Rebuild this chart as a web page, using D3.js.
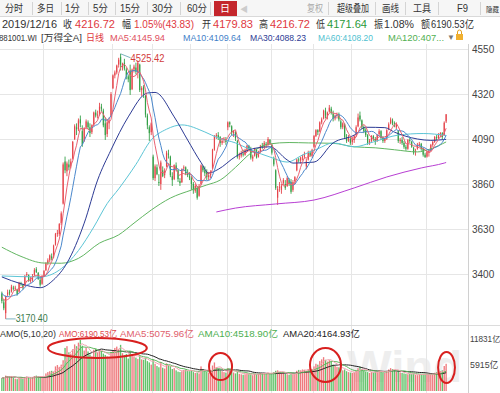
<!DOCTYPE html>
<html><head><meta charset="utf-8">
<script src="https://cdn.jsdelivr.net/npm/d3@7"></script>
<style>html,body{margin:0;padding:0;background:#fff;overflow:hidden}svg{display:block}</style>
</head><body><svg id="c" width="500" height="393"></svg>
<script>
// ---- data: daily candles [open, high, low, close], Jan 2 2019 .. Dec 16 2019
const ohlc = [
[3300,3310,3250,3262],[3255,3270,3215,3225],[3200,3290,3170.4,3285],[3295,3320,3285,3305],[3310,3320,3290,3302],
[3310,3345,3305,3335],[3330,3340,3315,3325],[3325,3340,3315,3330],[3320,3325,3290,3298],[3310,3360,3305,3355],
[3352,3360,3340,3348],[3345,3350,3320,3330],[3340,3395,3338,3390],[3395,3410,3385,3400],[3395,3398,3360,3365],
[3365,3385,3355,3375],[3370,3400,3360,3390],[3395,3430,3390,3420],[3425,3435,3405,3410],[3405,3410,3370,3375],
[3370,3385,3335,3345],[3350,3395,3345,3385],
[3390,3420,3385,3415],[3420,3460,3415,3455],[3455,3480,3445,3470],[3470,3500,3460,3495],[3490,3505,3470,3480],
[3485,3550,3480,3545],[3550,3610,3545,3605],[3605,3625,3590,3610],[3605,3660,3595,3655],[3660,3720,3650,3710],
[3760,3970,3755,3960],[3975,4000,3915,3930],[3925,3975,3900,3965],[3960,3985,3930,3945],[3950,3990,3940,3975],
[3990,4080,3985,4075],[4090,4165,4085,4155],[4150,4170,4110,4140],[4140,4195,4130,4185],[4190,4210,4150,4170],
[4130,4160,4050,4060],[4080,4150,4075,4145],[4150,4190,4140,4180],[4175,4185,4140,4150],[4150,4170,4100,4120],
[4125,4165,4115,4160],[4160,4230,4155,4225],[4225,4240,4200,4210],[4210,4235,4195,4215],[4220,4275,4210,4255],
[4255,4270,4230,4245],[4235,4245,4150,4160],[4170,4200,4085,4110],[4115,4190,4100,4175],[4170,4200,4140,4185],
[4210,4330,4205,4320],
[4350,4420,4345,4415],[4415,4440,4400,4430],[4430,4470,4420,4465],[4470,4505,4455,4495],[4510,4525.42,4440,4470],
[4460,4480,4440,4475],[4480,4500,4440,4450],[4445,4455,4395,4410],[4410,4420,4380,4395],[4440,4470,4315,4340],
[4345,4450,4340,4445],[4445,4470,4430,4460],[4455,4480,4420,4435],[4430,4490,4400,4480],[4470,4475,4330,4340],
[4340,4360,4310,4350],[4355,4365,4300,4320],[4310,4315,4200,4215],[4210,4220,4140,4160],[4150,4160,4080,4120],
[4125,4175,4110,4170],
[4000,4010,3880,3890],[3890,3960,3875,3950],[3945,3960,3905,3910],[3870,3910,3850,3865],[3860,3980,3830,3970],
[3930,3950,3895,3900],[3905,3940,3890,3925],[3950,4030,3945,4020],[4015,4035,3990,4010],[4000,4005,3895,3905],
[3900,3920,3850,3880],[3885,3960,3880,3955],[3955,3970,3925,3935],[3930,3935,3870,3885],[3875,3890,3850,3865],
[3870,3940,3865,3935],[3940,3955,3925,3945],[3945,3950,3905,3915],[3915,3935,3895,3905],[3900,3920,3880,3890],
[3890,3900,3830,3860],[3860,3870,3810,3830],[3825,3860,3815,3850],[3840,3850,3780,3790],[3800,3860,3795,3850],
[3860,3960,3855,3955],[3950,3955,3920,3930],[3930,3950,3900,3915],[3920,3935,3880,3895],[3895,3920,3880,3905],
[3905,3930,3890,3920],[3940,4040,3935,4035],[4035,4110,4030,4105],[4105,4120,4090,4110],[4110,4125,4085,4100],
[4100,4105,4050,4070],[4070,4090,4060,4080],[4085,4100,4070,4090],[4090,4100,4060,4075],
[4150,4180,4135,4175],[4175,4180,4150,4165],[4155,4160,4110,4120],[4120,4135,4100,4130],[4125,4130,4080,4095],
[4080,4085,3990,4000],[4000,4020,3985,4005],[4005,4030,3995,4015],[4015,4035,4000,4010],[4010,4040,4005,4035],
[4035,4060,4025,4055],[4055,4060,4030,4040],[4040,4050,3985,3995],[3990,4010,3975,4000],[4005,4045,4000,4040],
[4035,4040,3990,3995],[4000,4030,3995,4025],[4025,4060,4020,4055],[4055,4070,4040,4050],[4050,4080,4045,4070],
[4065,4075,4045,4060],[4060,4100,4055,4090],[4085,4090,4060,4065],
[4060,4065,4010,4020],[3990,4000,3950,3960],[3930,3935,3830,3840],[3790,3850,3753,3835],[3840,3870,3820,3845],
[3830,3860,3810,3850],[3865,3890,3855,3880],[3860,3880,3830,3840],[3850,3900,3845,3890],[3880,3890,3850,3860],
[3870,3885,3810,3820],[3830,3880,3820,3870],[3875,3900,3860,3895],[3930,3990,3925,3985],[3985,3995,3970,3980],
[3980,4000,3965,3995],[3995,4010,3980,4000],[4000,4025,3990,4015],[3950,3990,3935,3975],[3985,4030,3980,4020],
[4020,4030,4000,4005],[4005,4040,3995,4035],
[4050,4110,4045,4105],[4105,4140,4100,4135],[4135,4140,4110,4125],[4130,4180,4125,4175],[4175,4200,4165,4190],
[4195,4240,4190,4235],[4235,4250,4195,4210],[4205,4230,4190,4225],[4230,4264,4225,4250],[4245,4255,4215,4225],
[4220,4235,4180,4195],[4195,4215,4185,4210],[4210,4225,4195,4215],[4215,4225,4180,4190],[4180,4190,4140,4150],
[4150,4175,4140,4170],[4165,4170,4090,4100],[4100,4115,4070,4080],[4080,4110,4075,4095],[4090,4100,4060,4070],
[4075,4100,4060,4090],[4085,4110,4070,4105],[4110,4160,4100,4150],[4155,4220,4150,4200],[4210,4230,4180,4190],
[4185,4190,4140,4150],[4150,4160,4120,4130],[4135,4145,4100,4110],[4110,4115,4060,4070],[4070,4090,4060,4080],
[4080,4110,4075,4105],[4105,4110,4080,4090],[4090,4100,4060,4075],[4080,4115,4075,4110],[4115,4140,4105,4130],
[4130,4135,4085,4095],[4095,4105,4070,4080],[4080,4095,4070,4090],
[4090,4140,4085,4135],[4140,4175,4135,4165],[4170,4200,4165,4190],[4185,4195,4160,4170],[4170,4180,4150,4160],
[4150,4175,4140,4165],[4130,4135,4070,4080],[4080,4095,4065,4085],[4085,4100,4060,4070],[4070,4080,4040,4050],
[4050,4060,4030,4040],[4040,4090,4035,4085],[4085,4095,4070,4080],[4075,4080,4045,4050],[4045,4050,4010,4020],
[4025,4040,4005,4030],[4040,4070,4035,4060],[4060,4075,4050,4065],[4065,4070,4030,4040],[4040,4045,4000,4010],
[4010,4020,3993,3998],
[4000,4030,3995,4025],[4020,4035,4000,4030],[4030,4065,4025,4060],[4060,4080,4050,4075],[4075,4105,4070,4100],
[4100,4110,4085,4095],[4095,4120,4090,4115],[4115,4125,4100,4120],[4120,4125,4090,4100],[4110,4180,4105,4173],
[4179.83,4216.72,4171.64,4216.72]
];
// turnover (亿)
const volumes = [
2900,3100,3500,3400,3200,3300,2950,2800,2700,3100,3000,2800,3200,3300,3100,2900,3000,3400,3500,3300,3200,3100,
3300,4000,4300,4500,4600,4400,5600,5900,5500,6000,7000,9800,10200,8800,8500,
9500,10600,10200,11000,11600,10300,9200,9800,9000,8300,7900,9400,9600,8800,9300,9100,8500,8200,7900,7800,8900,
9300,9800,10100,9500,10500,8600,8200,8400,7400,8900,8300,7900,7600,7300,8000,7200,7100,7600,6800,6500,6000,
7200,6200,5700,5400,6600,5300,5100,6300,5900,5700,5000,5200,4700,4400,4300,4500,4800,4900,4600,4500,
4600,4300,4100,4200,4000,5600,5000,4700,4400,4200,4500,5800,6500,5400,5000,4700,4500,4300,4200,
5200,4900,4500,4200,4000,4600,3900,3800,3700,3800,4000,3900,3800,3600,3900,3800,3900,4100,4000,4100,4000,4200,3900,
4000,4300,4600,4700,4300,4100,4200,3900,3800,3700,3900,3800,3900,4600,4800,4700,4900,4800,4600,5000,4700,5000,
5600,6200,6000,6800,7200,7700,7100,6700,7000,6800,6000,5700,5500,5400,5100,4700,4900,4500,4300,4200,
4100,4200,4600,5200,5500,5000,4600,4400,4300,4100,4300,4200,4400,4300,4700,4500,4200,4100,
4600,4900,5200,5000,4700,4400,4600,4200,4100,4000,3900,3800,3900,3850,3950,3700,3600,3750,3800,3900,3860,
3800,3700,3800,3900,4150,4259,4300,4500,4700,5690,6190.53
];
const preCloses = [3345,3330,3320,3305,3310,3295,3300,3285,3270]; // closes before the window (for MA5/MA10)
// long moving averages: [candle index, value]
const ma30Pts = [[0,3385],[10,3350],[20,3330],[27,3370],[34,3456],[43,3660],[50,3880],[57,4034],[66,4203],[76,4325],[80,4328],[90,4203],[97,4085],[104,3970],[108,3916],[113,3935],[122,4000],[131,4040],[140,4050],[149,3983],[152,3967],[163,3972],[173,4070],[184,4110],[190,4150],[200,4148],[205,4125],[217,4090],[224,4083],[232,4088.23]];
const ma60Pts = [[0,3390],[20,3385],[30,3420],[40,3520],[48,3640],[55,3760],[61,3835],[70,3960],[78,4085],[86,4140],[94,4162],[106,4126],[113,4095],[122,4070],[131,4030],[140,3998],[149,3972],[157,4008],[165,4040],[173,4070],[184,4050],[194,4075],[207,4110],[220,4118],[232,4108.2]];
const ma120Pts = [[0,3537],[10,3490],[22,3456],[31,3455],[40,3480],[51,3558],[61,3600],[69,3660],[78,3727],[88,3788],[99,3829],[107,3855],[114,3880],[122,3945],[130,4018],[140,4065],[150,4072],[160,4070],[173,4068],[184,4050],[195,4045],[205,4035],[217,4024],[224,4040],[232,4075]];
const ma250Pts = [[112,3717],[122,3737],[143,3758],[163,3778],[184,3840],[201,3896],[219,3942],[231,3967],[232,3970]];
const monthStarts = [22,58,79,99,118,141,163,183,222];
const priceTicks = [3400,3630,3860,4090,4320,4550];
const volTicks = [5915,11831];
// hand-drawn red ellipses on the volume pane: [centre index, half width (candles), centre turnover, half height (turnover)]
const marks = [[49.9,25.8,9780,2280],[114.2,6,5570,3070],[169,8.1,5915,3870],[232.2,4.4,5350,3530]];

const tabs = ["分时","多日","1分","5分","15分","30分","60分","日"];
const tools = ["复权","超级叠加","画线","工具","F9","隐藏"];

// ---- drawing
const W=500,H=393,N=ohlc.length;
const svg=d3.select('#c');
const RED='#e5454b',GREEN='#35a048';
const FONT='"Liberation Sans","Noto Sans CJK SC",sans-serif';
const x=d3.scaleBand().domain(d3.range(N)).range([0.9,0.9+N*1.915]).padding(0);
const cx=i=>x(i)+x.bandwidth()/2;
const y=d3.scaleLinear().domain([3170,4550]).range([319,49]);
const yv=d3.scaleLinear().domain([0,11831]).range([391,339]);
const plotR=468;

function txt(g,t,x0,y0,size,fill,len){
  const e=g.append('text').attr('x',x0).attr('y',y0).attr('font-family',FONT).attr('font-size',size).attr('fill',fill).text(t);
  if(len) e.attr('textLength',len).attr('lengthAdjust','spacingAndGlyphs');
  return e;
}

// watermark
txt(svg,'Wind',347,382,44,'#eeeeee',115).attr('font-weight','bold');

// grid
const grid=svg.append('g').attr('stroke','#e6e6e6').attr('stroke-width',1);
priceTicks.forEach(t=>grid.append('line').attr('x1',0).attr('x2',plotR).attr('y1',Math.round(y(t))+0.5).attr('y2',Math.round(y(t))+0.5));
monthStarts.forEach(m=>grid.append('line').attr('x1',Math.round(x(m))+0.5).attr('x2',Math.round(x(m))+0.5).attr('y1',44).attr('y2',H));
svg.append('line').attr('x1',0).attr('x2',W).attr('y1',325.5).attr('y2',325.5).attr('stroke','#dcdcdc');
svg.append('line').attr('x1',plotR+0.5).attr('x2',plotR+0.5).attr('y1',44).attr('y2',H).attr('stroke','#d0d0d0');

// axis labels
priceTicks.forEach(t=>txt(svg,String(t),472,y(t)+3.5,10,'#444'));
volTicks.forEach(t=>txt(svg,t+'亿',470,yv(t)+3,t>9999?8.2:8.8,'#444'));

// candles
const bw=Math.max(1,x.bandwidth()*0.62);
const cg=svg.append('g');
cg.selectAll('line').data(ohlc).join('line')
  .attr('x1',(d,i)=>cx(i)).attr('x2',(d,i)=>cx(i)).attr('y1',d=>y(d[1])).attr('y2',d=>y(d[2]))
  .attr('stroke',d=>d[3]>=d[0]?RED:GREEN).attr('stroke-width',0.9);
cg.selectAll('rect').data(ohlc).join('rect')
  .attr('x',(d,i)=>cx(i)-bw/2).attr('width',bw)
  .attr('y',d=>y(Math.max(d[0],d[3]))).attr('height',d=>Math.max(0.8,Math.abs(y(d[0])-y(d[3]))))
  .attr('fill',d=>d[3]>=d[0]?RED:GREEN);

// moving averages
const closes=ohlc.map(d=>d[3]);
const allC=preCloses.concat(closes), off=preCloses.length;
const ma=n=>closes.map((c,i)=>[i,d3.mean(allC.slice(Math.max(0,i+off-n+1),i+off+1))]);
const lineC=d3.line().x(d=>cx(d[0])).y(d=>y(d[1]));
const lineS=d3.line().x(d=>cx(d[0])).y(d=>y(d[1])).curve(d3.curveMonotoneX);
const maSeries=[
  [ma120Pts,'#62b662',lineS],[ma250Pts,'#b83fd3',lineS],[ma60Pts,'#5cc5d6',lineS],
  [ma30Pts,'#2c3a94',lineS],[ma(10),'#4b88cc',lineC],[ma(5),'#ea6272',lineC]];
maSeries.forEach(([pts,col,gen])=>svg.append('path').attr('d',gen(pts)).attr('fill','none').attr('stroke',col).attr('stroke-width',1));

// extreme labels
const hiIdx=d3.maxIndex(ohlc,d=>d[1]), loIdx=d3.minIndex(ohlc,d=>d[2]);
svg.append('line').attr('x1',cx(hiIdx)).attr('y1',y(ohlc[hiIdx][1])).attr('x2',cx(hiIdx)+10).attr('y2',y(ohlc[hiIdx][1])+4).attr('stroke','#5a9fae').attr('stroke-width',0.8);
txt(svg,ohlc[hiIdx][1].toFixed(2),cx(hiIdx)+10,y(ohlc[hiIdx][1])+8,10,'#d23c3c',34);
svg.append('line').attr('x1',cx(loIdx)).attr('y1',y(ohlc[loIdx][2])).attr('x2',cx(loIdx)+10).attr('y2',y(ohlc[loIdx][2])).attr('stroke','#5a9fae').attr('stroke-width',0.8);
txt(svg,ohlc[loIdx][2].toFixed(2),cx(loIdx)+10,y(ohlc[loIdx][2])+3.5,10,'#3b7a4b',32);

// volume bars
const vb=Math.max(1,x.bandwidth()*0.7);
svg.append('g').selectAll('rect').data(volumes).join('rect')
  .attr('x',(d,i)=>cx(i)-vb/2).attr('width',vb).attr('y',d=>yv(d)).attr('height',d=>yv(0)-yv(d))
  .attr('fill',(d,i)=>ohlc[i][3]>=ohlc[i][0]?'#ef7a7e':'#62c26a');
const vma=n=>volumes.map((v,i)=>[i,d3.mean(volumes.slice(Math.max(0,i-n+1),i+1))]);
const lineV=d3.line().x(d=>cx(d[0])).y(d=>yv(d[1]));
[[vma(20),'#222'],[vma(10),'#5cb85c'],[vma(5),'#f2a5b0']].forEach(([p,c])=>
  svg.append('path').attr('d',lineV(p)).attr('fill','none').attr('stroke',c).attr('stroke-width',1));

// ellipses
svg.append('g').selectAll('ellipse').data(marks).join('ellipse')
  .attr('cx',d=>cx(0)+d[0]*x.step()).attr('rx',d=>d[1]*x.step())
  .attr('cy',d=>yv(d[2])).attr('ry',d=>yv(0)-yv(d[3]))
  .attr('fill','none').attr('stroke','#d8201f').attr('stroke-width',2);

// volume header
const vh=[["AMO(5,10,20)",0,56,'#333'],["AMO:6190.53亿",59,58,'#e0474c'],["AMA5:5075.96亿",120,74,'#e0606c'],["AMA10:4518.90亿",198,80,'#4caf50'],["AMA20:4164.93亿",283,77,'#222']];
vh.forEach(d=>txt(svg,d[0],d[1],337,8.6,d[3],d[2]));

// ---- header rows
svg.append('rect').attr('x',0).attr('y',0).attr('width',W).attr('height',16).attr('fill','#f6f6f6');
svg.append('line').attr('x1',0).attr('x2',W).attr('y1',16.5).attr('y2',16.5).attr('stroke','#d9d9d9');
const tabX=[[5,18],[37,17],[65,15],[93,15],[120,20],[152,21],[187,20],[220,10]];
const sepX=[32,61,88,115,147,180,210,328,375,405,438,480];
sepX.forEach(s=>svg.append('line').attr('x1',s+0.5).attr('x2',s+0.5).attr('y1',2).attr('y2',15).attr('stroke','#d4d4d4'));
svg.append('rect').attr('x',214).attr('y',1).attr('width',23).attr('height',15).attr('fill','#c4262c');
tabs.forEach((t,i)=>txt(svg,t,tabX[i][0],12,10,i===tabs.length-1?'#fff':'#333',tabX[i][1]));
txt(svg,'◀',240,12,8,'#ccc');
const toolX=[[307,16,10],[337,32,10],[382,17,10],[413,18,10],[457,11,10],[486,13,6.8]];
tools.forEach((t,i)=>txt(svg,t,toolX[i][0],12,toolX[i][2],i===0?'#aaa':'#333',toolX[i][1]));

const row2=[["2019/12/16",2,55,'#333'],["收",63,9,'#333'],["4216.72",75,40,'#e0393e'],["幅",122,9,'#333'],["1.05%(43.83)",134,60,'#e0393e'],
  ["开",202,9,'#333'],["4179.83",213,40,'#e0393e'],["高",259,9,'#333'],["4216.72",270,40,'#e0393e'],["低",316,9,'#333'],
  ["4171.64",327,40,'#2a9a3a'],["振",374,9,'#333'],["1.08%",384,30,'#333'],["额",421,9,'#333'],["6190.53亿",431,43,'#333']];
row2.forEach(d=>txt(svg,d[0],d[1],28,10.5,d[3],d[2]));

const row3=[["881001.WI",-1,38,'#333',8.4],["[万得全A]",41,41,'#333',9],["日线",86,18,'#e0393e',9],["MA5:4145.94",110,55,'#e0505e',9.5],
  ["MA10:4109.64",183,58,'#3f80c8',9.5],["MA30:4088.23",250,56,'#2c3a94',9.5],["MA60:4108.20",318,55,'#4fbfd0',9.5],["MA120:407...",388,56,'#52b052',9.5]];
row3.forEach(d=>txt(svg,d[0],d[1],41,d[4],d[3],d[2]));
txt(svg,'▼',447,40,8,'#777');
svg.append('rect').attr('x',456).attr('y',34).attr('width',7).attr('height',6).attr('fill','#f0b030');
svg.append('path').attr('d','M457.5,34 v-2 a2,2 0 0 1 4,0 v2').attr('fill','none').attr('stroke','#e0a020');
</script></body></html>
